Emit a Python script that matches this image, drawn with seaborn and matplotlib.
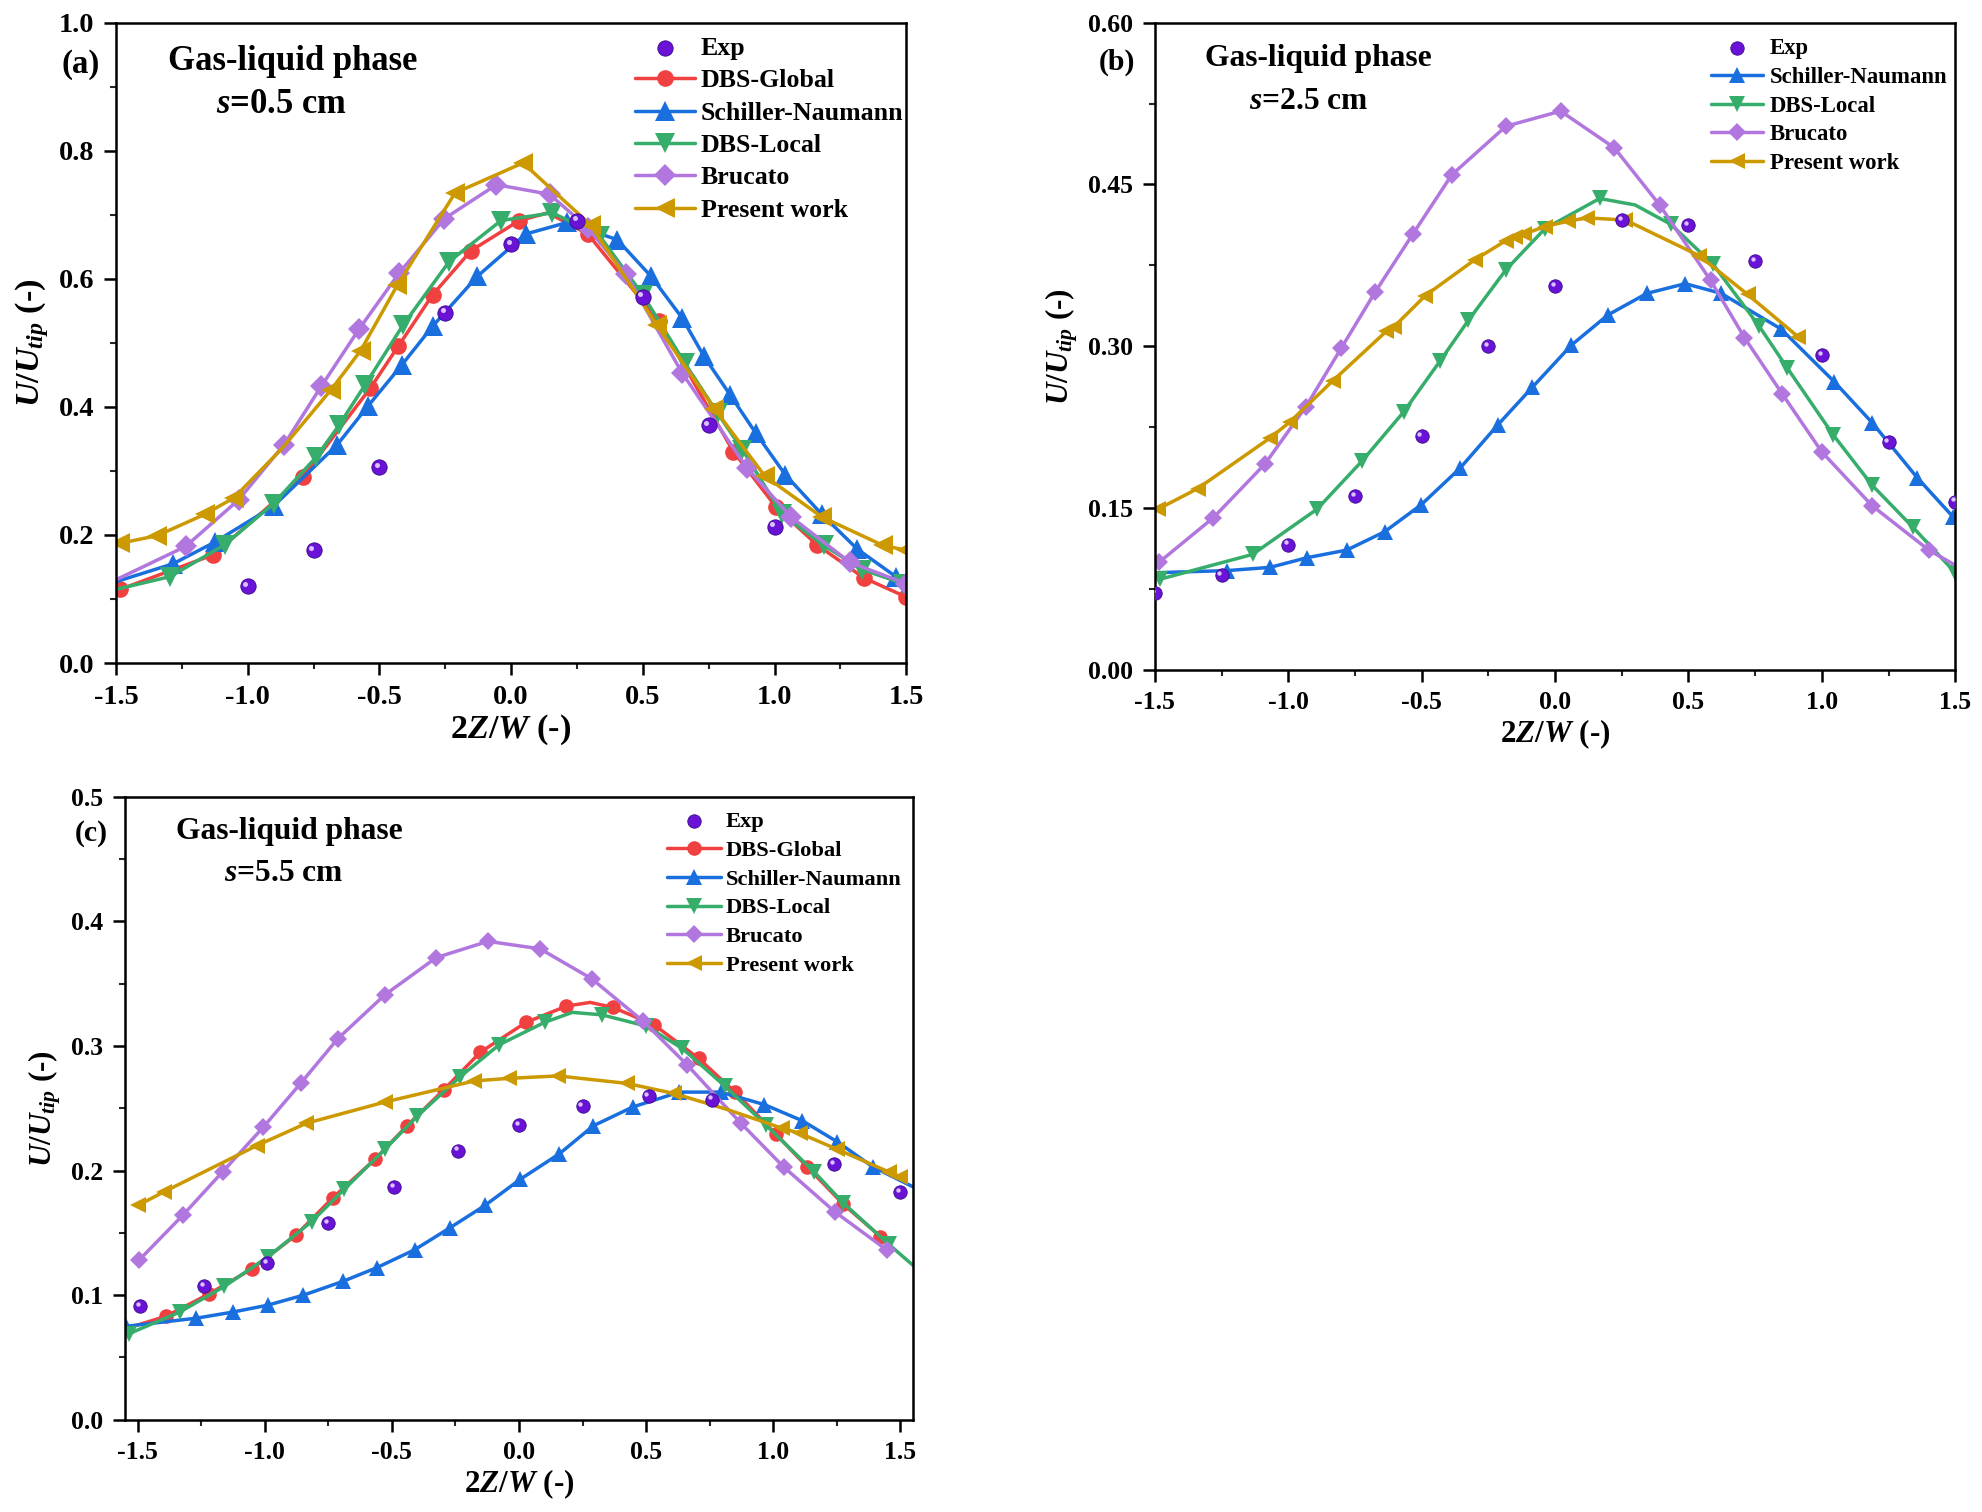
import matplotlib
matplotlib.use('Agg')
import matplotlib.pyplot as plt
import matplotlib.transforms as mtransforms
from matplotlib.ticker import MultipleLocator, FormatStrFormatter
import seaborn as sns

# ---------------- (a) s = 0.5 cm ----------------
A_EXP_X = [-1.0, -0.75, -0.5, -0.25, 0.0, 0.25, 0.5, 0.75, 1.0]
A_EXP_Y = [0.120, 0.176, 0.306, 0.547, 0.654, 0.691, 0.572, 0.371, 0.213]

A_GLOBAL_X = [-1.484, -1.131, -0.790, -0.535, -0.428, -0.298, -0.152, 0.031, 0.14, 0.291,
              0.560, 0.844, 1.007, 1.160, 1.339, 1.500]
A_GLOBAL_Y = [0.115, 0.169, 0.291, 0.429, 0.495, 0.575, 0.644, 0.691, 0.703, 0.670,
              0.534, 0.330, 0.243, 0.185, 0.133, 0.103]
A_GLOBAL_SKIP = [8]

A_SN_X = [-1.5, -1.283, -1.124, -0.902, -0.660, -0.544, -0.414, -0.298, -0.128, 0.056, 0.213,
          0.403, 0.531, 0.649, 0.732, 0.831, 0.929, 1.041, 1.18, 1.314, 1.460, 1.5]
A_SN_Y = [0.127, 0.155, 0.189, 0.245, 0.341, 0.401, 0.466, 0.526, 0.604, 0.670, 0.688,
          0.661, 0.604, 0.539, 0.479, 0.419, 0.359, 0.294, 0.232, 0.178, 0.135, 0.120]
A_SN_SKIP = [0, 21]

A_LOCAL_X = [-1.5, -1.294, -1.086, -0.902, -0.739, -0.654, -0.555, -0.410, -0.235, -0.038, 0.157,
             0.336, 0.50, 0.660, 0.784, 0.878, 1.03, 1.186, 1.332, 1.489]
A_LOCAL_Y = [0.115, 0.135, 0.185, 0.249, 0.322, 0.371, 0.434, 0.528, 0.627, 0.691, 0.703,
             0.667, 0.575, 0.468, 0.390, 0.333, 0.232, 0.184, 0.146, 0.124]
A_LOCAL_SKIP = [0]

A_BRUCATO_X = [-1.5, -1.236, -1.034, -0.862, -0.721, -0.578, -0.425, -0.253, -0.056, 0.146, 0.29,
               0.437, 0.649, 0.895, 1.063, 1.287, 1.5]
A_BRUCATO_Y = [0.13, 0.182, 0.255, 0.341, 0.432, 0.521, 0.609, 0.694, 0.747, 0.732, 0.68,
               0.607, 0.453, 0.305, 0.228, 0.157, 0.124]
A_BRUCATO_SKIP = [0]

A_PRESENT_X = [-1.484, -1.343, -1.164, -1.052, -0.87, -0.683, -0.571, -0.432, -0.213, 0.045, 0.302,
               0.553, 0.772, 0.963, 1.18, 1.41, 1.50]
A_PRESENT_Y = [0.187, 0.199, 0.232, 0.258, 0.335, 0.427, 0.488, 0.590, 0.734, 0.781, 0.684,
               0.528, 0.397, 0.292, 0.228, 0.184, 0.176]
A_PRESENT_SKIP = [4]

# ---------------- (b) s = 2.5 cm ----------------
B_EXP_X = [-1.5, -1.25, -1.0, -0.75, -0.5, -0.25, 0.0, 0.25, 0.5, 0.75, 1.0, 1.25, 1.5]
B_EXP_Y = [0.071, 0.088, 0.116, 0.161, 0.217, 0.300, 0.356, 0.417, 0.412, 0.379, 0.292, 0.211, 0.156]

B_SN_X = [-1.5, -1.229, -1.068, -0.929, -0.781, -0.639, -0.502, -0.356, -0.215, -0.085, 0.061,
          0.198, 0.344, 0.488, 0.623, 0.847, 1.047, 1.189, 1.358, 1.491]
B_SN_Y = [0.090, 0.092, 0.095, 0.104, 0.111, 0.128, 0.153, 0.187, 0.227, 0.262, 0.301,
          0.329, 0.349, 0.358, 0.349, 0.316, 0.267, 0.229, 0.178, 0.142]
B_SN_SKIP = [0]

B_LOCAL_X = [-1.481, -1.134, -0.892, -0.722, -0.568, -0.432, -0.325, -0.184, -0.038, 0.167, 0.30,
             0.434, 0.592, 0.764, 0.870, 1.042, 1.189, 1.342, 1.5]
B_LOCAL_Y = [0.084, 0.107, 0.149, 0.194, 0.239, 0.286, 0.324, 0.371, 0.409, 0.437, 0.431,
             0.413, 0.376, 0.319, 0.280, 0.218, 0.171, 0.132, 0.090]
B_LOCAL_SKIP = [10]

B_BRUCATO_X = [-1.483, -1.281, -1.087, -0.934, -0.802, -0.675, -0.533, -0.387, -0.184, 0.021,
               0.222, 0.392, 0.583, 0.710, 0.851, 1.000, 1.189, 1.401, 1.5]
B_BRUCATO_Y = [0.100, 0.141, 0.191, 0.244, 0.298, 0.350, 0.404, 0.459, 0.504, 0.518,
               0.484, 0.431, 0.361, 0.308, 0.256, 0.202, 0.152, 0.111, 0.097]
B_BRUCATO_SKIP = [18]

B_PRESENT_X = [-1.488, -1.340, -1.068, -0.993, -0.833, -0.632, -0.604, -0.486, -0.302, -0.184,
               -0.149, -0.116, -0.038, 0.050, 0.120, 0.264, 0.540, 0.722, 0.910]
B_PRESENT_Y = [0.149, 0.168, 0.215, 0.230, 0.268, 0.314, 0.318, 0.347, 0.380, 0.398,
               0.401, 0.404, 0.411, 0.416, 0.419, 0.417, 0.384, 0.348, 0.309]
B_PRESENT_SKIP = []

# ---------------- (c) s = 5.5 cm ----------------
C_EXP_X = [-1.49, -1.24, -0.99, -0.75, -0.49, -0.24, 0.0, 0.25, 0.51, 0.76, 1.24, 1.5]
C_EXP_Y = [0.0915, 0.107, 0.126, 0.158, 0.187, 0.216, 0.2365, 0.252, 0.260, 0.257, 0.205, 0.183]

C_GLOBAL_X = [-1.55, -1.389, -1.219, -1.051, -0.878, -0.733, -0.567, -0.440, -0.295, -0.152, 0.028,
              0.187, 0.28, 0.369, 0.532, 0.707, 0.850, 1.012, 1.134, 1.276, 1.422]
C_GLOBAL_Y = [0.073, 0.083, 0.101, 0.121, 0.148, 0.178, 0.209, 0.236, 0.265, 0.295, 0.319,
              0.332, 0.335, 0.331, 0.317, 0.290, 0.263, 0.229, 0.203, 0.173, 0.147]
C_GLOBAL_SKIP = [0, 12]

C_SN_X = [-1.546, -1.270, -1.124, -0.988, -0.848, -0.694, -0.560, -0.410, -0.272, -0.134, 0.005,
          0.159, 0.293, 0.447, 0.631, 0.793, 0.965, 1.115, 1.253, 1.392, 1.55]
C_SN_Y = [0.075, 0.0815, 0.0865, 0.092, 0.100, 0.111, 0.122, 0.1365, 0.154, 0.172, 0.193,
          0.2135, 0.236, 0.251, 0.263, 0.263, 0.253, 0.240, 0.223, 0.203, 0.187]
C_SN_SKIP = [20]

C_LOCAL_X = [-1.535, -1.334, -1.159, -0.986, -0.816, -0.687, -0.528, -0.401, -0.233, -0.078, 0.101,
             0.21, 0.327, 0.500, 0.643, 0.809, 0.972, 1.161, 1.276, 1.454, 1.55]
C_LOCAL_Y = [0.069, 0.0865, 0.107, 0.131, 0.159, 0.185, 0.217, 0.2435, 0.275, 0.301, 0.319,
             0.327, 0.325, 0.316, 0.298, 0.268, 0.2365, 0.199, 0.174, 0.141, 0.124]
C_LOCAL_SKIP = [11, 20]

C_BRUCATO_X = [-1.495, -1.323, -1.166, -1.005, -0.859, -0.712, -0.528, -0.325, -0.122, 0.083,
               0.286, 0.488, 0.661, 0.873, 1.041, 1.242, 1.449]
C_BRUCATO_Y = [0.128, 0.164, 0.199, 0.235, 0.270, 0.306, 0.341, 0.371, 0.384, 0.378,
               0.354, 0.320, 0.285, 0.238, 0.203, 0.167, 0.136]
C_BRUCATO_SKIP = []

C_PRESENT_X = [-1.5, -1.396, -1.032, -0.836, -0.528, -0.175, -0.041, 0.154, 0.424, 0.608, 0.82,
               1.035, 1.104, 1.253, 1.454, 1.5]
C_PRESENT_Y = [0.172, 0.183, 0.220, 0.238, 0.255, 0.272, 0.274, 0.276, 0.270, 0.262, 0.249,
               0.234, 0.230, 0.217, 0.199, 0.195]
C_PRESENT_SKIP = [10]

# Origin-like palette: colour, marker, size factor
STYLE = {
    'DBS-Global': ('#F14040', 'o', 1.0),
    'Schiller-Naumann': ('#1A6FDF', '^', 1.15),
    'DBS-Local': ('#37AD6B', 'v', 1.15),
    'Brucato': ('#B177DE', 'D', 0.9),
    'Present work': ('#CC9900', '<', 1.15),
}
EXP_FACE = '#6A12D6'
EXP_EDGE = '#3A0A8C'
EXP_SHINE = '#D9C2FF'


def draw_panel(fig, ax, exp, series, xlim, ylim, ymajor, yfmt, tag, s_label, leg, ms, k):
    ex, ey = exp
    sns.scatterplot(x=ex, y=ey, ax=ax, color=EXP_FACE, edgecolor=EXP_EDGE, linewidth=0.6,
                    s=(ms * 0.92) ** 2, label='Exp', zorder=6)
    # small highlight to give the Exp points a sphere look
    shine = mtransforms.offset_copy(ax.transData, fig=fig, x=-1.6 * k, y=1.6 * k, units='points')
    ax.scatter(ex, ey, s=(ms * 0.3) ** 2, color=EXP_SHINE, linewidth=0, zorder=7,
               transform=shine, label='_nolegend_')

    for name, xs, ys, skip in series:
        c, m, f = STYLE[name]
        every = [i for i in range(len(xs)) if i not in skip]
        sns.lineplot(x=xs, y=ys, ax=ax, color=c, marker=m, markersize=ms * f,
                     markeredgecolor=c, markeredgewidth=0, linewidth=2.5, label=name,
                     markevery=every, errorbar=None, sort=False)

    ax.set_xlim(*xlim)
    ax.set_ylim(*ylim)
    ax.xaxis.set_major_locator(MultipleLocator(0.5))
    ax.xaxis.set_minor_locator(MultipleLocator(0.25))
    ax.xaxis.set_major_formatter(FormatStrFormatter('%.1f'))
    ax.yaxis.set_major_locator(MultipleLocator(ymajor))
    ax.yaxis.set_minor_locator(MultipleLocator(ymajor / 2))
    ax.yaxis.set_major_formatter(FormatStrFormatter(yfmt))
    ax.tick_params(which='major', direction='out', length=8.5, width=1.8, labelsize=18.5 * k,
                   pad=7, top=False, right=False, colors='black')
    ax.tick_params(which='minor', direction='out', length=4.5, width=1.5, top=False, right=False)
    for sp in ax.spines.values():
        sp.set_linewidth(1.8)
        sp.set_color('black')

    ax.set_xlabel(r'2$Z/W$ (-)', fontsize=22.4 * k, labelpad=2)
    ax.set_ylabel(r'$U/U_{tip}$ (-)', fontsize=22.4 * k, labelpad=6)

    ax.text(tag[1], tag[2], tag[0], transform=ax.transAxes, fontsize=21.5 * k,
            ha='right', va='center')
    ax.text(s_label[3], s_label[2], 'Gas-liquid phase', transform=ax.transAxes,
            fontsize=22.7 * k, ha='left', va='center')
    ax.text(s_label[1], s_label[2] - 0.067, s_label[0], transform=ax.transAxes,
            fontsize=22.7 * k, ha='left', va='center')

    ax.legend(loc='upper left', bbox_to_anchor=(leg[0], leg[1]), frameon=False,
              fontsize=leg[2], handlelength=leg[3], handletextpad=leg[4],
              labelspacing=leg[5], borderpad=0, borderaxespad=0, numpoints=1,
              scatterpoints=1)


sns.set_style('ticks')
plt.rcParams['font.family'] = ['Liberation Serif', 'DejaVu Serif']
plt.rcParams['font.weight'] = 'bold'
plt.rcParams['axes.labelweight'] = 'bold'
plt.rcParams['text.color'] = 'black'
plt.rcParams['axes.labelcolor'] = 'black'
plt.rcParams['mathtext.fontset'] = 'custom'
plt.rcParams['mathtext.rm'] = 'Liberation Serif:bold'
plt.rcParams['mathtext.it'] = 'Liberation Serif:italic:bold'
plt.rcParams['mathtext.bf'] = 'Liberation Serif:bold'
plt.rcParams['axes.unicode_minus'] = False

fig = plt.figure(figsize=(19.83, 15.12), dpi=100)
ax_a = fig.add_axes([0.0585, 0.5615, 0.3985, 0.4235])
ax_b = fig.add_axes([0.5824, 0.557, 0.4036, 0.428])
ax_c = fig.add_axes([0.063, 0.061, 0.3974, 0.412])

draw_panel(fig, ax_a, (A_EXP_X, A_EXP_Y),
           [('DBS-Global', A_GLOBAL_X, A_GLOBAL_Y, A_GLOBAL_SKIP),
            ('Schiller-Naumann', A_SN_X, A_SN_Y, A_SN_SKIP),
            ('DBS-Local', A_LOCAL_X, A_LOCAL_Y, A_LOCAL_SKIP),
            ('Brucato', A_BRUCATO_X, A_BRUCATO_Y, A_BRUCATO_SKIP),
            ('Present work', A_PRESENT_X, A_PRESENT_Y, A_PRESENT_SKIP)],
           (-1.5, 1.5), (0, 1.0), 0.2, '%.1f', ('(a)', -0.02, 0.934),
           (r'$s$=0.5 cm', 0.126, 0.94, 0.066), (0.657, 0.978, 18.6, 2.33, 0.2, 0.36), 12, 1.1)

draw_panel(fig, ax_b, (B_EXP_X, B_EXP_Y),
           [('Schiller-Naumann', B_SN_X, B_SN_Y, B_SN_SKIP),
            ('DBS-Local', B_LOCAL_X, B_LOCAL_Y, B_LOCAL_SKIP),
            ('Brucato', B_BRUCATO_X, B_BRUCATO_Y, B_BRUCATO_SKIP),
            ('Present work', B_PRESENT_X, B_PRESENT_Y, B_PRESENT_SKIP)],
           (-1.5, 1.5), (0, 0.60), 0.15, '%.2f', ('(b)', -0.025, 0.939),
           (r'$s$=2.5 cm', 0.118, 0.945, 0.063), (0.695, 0.976, 16.4, 2.28, 0.3, 0.34), 10.5, 1.0)

draw_panel(fig, ax_c, (C_EXP_X, C_EXP_Y),
           [('DBS-Global', C_GLOBAL_X, C_GLOBAL_Y, C_GLOBAL_SKIP),
            ('Schiller-Naumann', C_SN_X, C_SN_Y, C_SN_SKIP),
            ('DBS-Local', C_LOCAL_X, C_LOCAL_Y, C_LOCAL_SKIP),
            ('Brucato', C_BRUCATO_X, C_BRUCATO_Y, C_BRUCATO_SKIP),
            ('Present work', C_PRESENT_X, C_PRESENT_Y, C_PRESENT_SKIP)],
           (-1.55, 1.55), (0, 0.5), 0.1, '%.1f', ('(c)', -0.022, 0.941),
           (r'$s$=5.5 cm', 0.126, 0.944, 0.065), (0.688, 0.977, 16.2, 2.4, 0.22, 0.36), 10.5, 1.0)

fig.savefig('out.png', dpi=100)
